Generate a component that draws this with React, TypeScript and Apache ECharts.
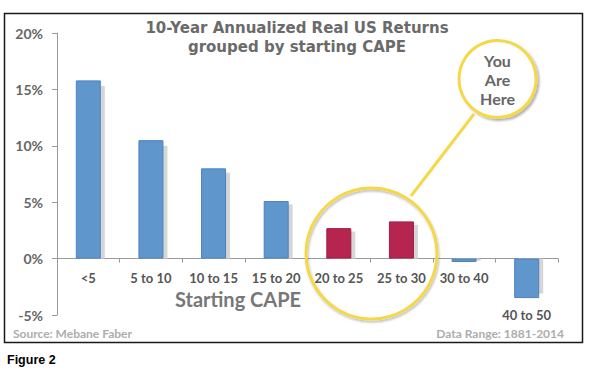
import React, { useEffect, useRef } from "react";
import * as echarts from "echarts";

const categories = ["<5", "5 to 10", "10 to 15", "15 to 20", "20 to 25", "25 to 30", "30 to 40", "40 to 50"];
const returns = [15.8, 10.5, 8.0, 5.1, 2.7, 3.3, -0.3, -3.5];
const shadowReturns = [15.3, 10.0, 7.6, 4.8, 2.4, 3.0, -0.2, -3.1];
const highlighted = ["20 to 25", "25 to 30"];
const loweredLabels = ["40 to 50"];
const yMin = -5;
const yMax = 20;
const yInterval = 5;
const titleLines = ["10-Year Annualized Real US Returns", "grouped by starting CAPE"];
const calloutLines = ["You", "Are", "Here"];

const FONT = "Lato, 'Open Sans', sans-serif";
const TITLE_FONT = "'DejaVu Sans', Lato, sans-serif";

export default function App() {
  const ref = useRef<HTMLDivElement>(null);
  useEffect(() => {
    if (!ref.current) return;
    const chart = echarts.init(ref.current, null, { renderer: "svg" });
    const blue = { color: "#5f96cc", borderColor: "#4a82c2", borderWidth: 1 };
    const red = { color: "#b5254f", borderColor: "#a01e44", borderWidth: 1 };
    const gridTop = 33, gridBottom = 58;
    const plotHeight = 373 - gridTop - gridBottom;
    // shift the category axis from the grid bottom up to the zero line
    const zeroOffset = -plotHeight * (0 - yMin) / (yMax - yMin);
    const labelStyle = {
      fontSize: 13,
      fontWeight: "bold",
      fontFamily: FONT,
      color: "#555",
    };
    chart.setOption({
      animation: false,
      backgroundColor: "#ffffff",
      grid: [
        { left: 57, right: 32, top: gridTop, bottom: gridBottom, outerBoundsMode: "none", containLabel: false },
        { left: 61, right: 28, top: gridTop, bottom: gridBottom, outerBoundsMode: "none", containLabel: false },
      ],
      xAxis: [
        {
          type: "category",
          gridIndex: 0,
          data: categories,
          position: "bottom",
          offset: zeroOffset,
          axisLine: { show: true, onZero: false, lineStyle: { color: "#9a9a9a", width: 1 } },
          axisTick: { show: true, length: 4, lineStyle: { color: "#9a9a9a" } },
          axisLabel: {
            interval: 0,
            hideOverlap: false,
            margin: 13,
            ...labelStyle,
            formatter: (v: string) =>
              loweredLabels.includes(v) ? `{low|${v}}` : `{n|${v}}`,
            rich: {
              n: { ...labelStyle },
              low: { ...labelStyle, padding: [37, 0, 0, 0] },
            },
          },
        },
        {
          type: "category",
          gridIndex: 1,
          data: categories,
          show: false,
        },
      ],
      yAxis: [
        {
          type: "value",
          gridIndex: 0,
          min: yMin,
          max: yMax,
          interval: yInterval,
          splitLine: { show: false },
          axisLine: { show: true, lineStyle: { color: "#9a9a9a", width: 1 } },
          axisTick: { show: true, length: 5, lineStyle: { color: "#9a9a9a" } },
          axisLabel: {
            margin: 14,
            fontSize: 14,
            fontWeight: "bold",
            fontFamily: FONT,
            color: "#666",
            formatter: "{value}%",
          },
        },
        {
          type: "value",
          gridIndex: 1,
          min: yMin,
          max: yMax,
          interval: yInterval,
          show: false,
          splitLine: { show: false },
        },
      ],
      series: [
        {
          type: "bar",
          xAxisIndex: 1,
          yAxisIndex: 1,
          barWidth: 25,
          z: 1,
          silent: true,
          itemStyle: { color: "#d6d6d6" },
          data: shadowReturns,
        },
        {
          type: "bar",
          xAxisIndex: 0,
          yAxisIndex: 0,
          barWidth: 25,
          z: 3,
          data: returns.map((v, i) => ({
            value: v,
            itemStyle: highlighted.includes(categories[i]) ? red : blue,
          })),
        },
      ],
      graphic: [
        {
          type: "rect",
          left: 2,
          top: 11,
          shape: { width: 578, height: 329 },
          style: { fill: "none", stroke: "#1a1a1a", lineWidth: 1.5 },
          z: 0,
        },
        ...titleLines.map((t, i) => ({
          type: "text",
          x: 297,
          y: 28 + i * 19,
          style: {
            text: t,
            fill: "#6a6a6a",
            font: `bold 15px ${TITLE_FONT}`,
            textAlign: "center",
            textVerticalAlign: "middle",
          },
          z: 10,
        })),
        {
          type: "text",
          x: 238,
          y: 299,
          style: {
            text: "Starting CAPE",
            fill: "#777",
            font: `bold 20px ${FONT}`,
            textAlign: "center",
            textVerticalAlign: "middle",
          },
          z: 10,
        },
        {
          type: "text",
          x: 13,
          y: 333,
          style: {
            text: "Source: Mebane Faber",
            fill: "#adadad",
            font: `bold 12px ${FONT}`,
            textAlign: "left",
            textVerticalAlign: "middle",
          },
          z: 10,
        },
        {
          type: "text",
          x: 564,
          y: 333,
          style: {
            text: "Data Range: 1881-2014",
            fill: "#adadad",
            font: `bold 12px ${FONT}`,
            textAlign: "right",
            textVerticalAlign: "middle",
          },
          z: 10,
        },
        {
          type: "text",
          x: 7,
          y: 360,
          style: {
            text: "Figure 2",
            fill: "#000",
            font: "bold 12.5px 'Liberation Sans Narrow', 'Liberation Sans', Arial, sans-serif",
            textAlign: "left",
            textVerticalAlign: "middle",
          },
          z: 10,
        },
        {
          type: "circle",
          shape: { cx: 371.5, cy: 253.5, r: 65.5 },
          style: {
            fill: "none",
            stroke: "#f5d84a",
            lineWidth: 3,
            shadowColor: "rgba(0,0,0,0.25)",
            shadowBlur: 2,
            shadowOffsetX: 1,
            shadowOffsetY: 2,
          },
          z: 20,
        },
        {
          type: "line",
          shape: { x1: 474, y1: 114, x2: 411, y2: 196 },
          style: { stroke: "#f5d84a", lineWidth: 3 },
          z: 20,
        },
        {
          type: "circle",
          shape: { cx: 497.5, cy: 79, r: 38.5 },
          style: {
            fill: "#ffffff",
            stroke: "#f5d84a",
            lineWidth: 3,
            shadowColor: "rgba(0,0,0,0.3)",
            shadowBlur: 2,
            shadowOffsetX: 2,
            shadowOffsetY: 2,
          },
          z: 21,
        },
        ...calloutLines.map((t, i) => ({
          type: "text",
          x: 497.5,
          y: 60 + i * 19,
          style: {
            text: t,
            fill: "#666",
            font: `bold 16px ${FONT}`,
            textAlign: "center",
            textVerticalAlign: "middle",
          },
          z: 22,
        })),
      ],
    });
    return () => chart.dispose();
  }, []);
  return (
    <div
      ref={ref}
      style={{ position: "absolute", left: 0, top: 0, width: 590, height: 373 }}
    />
  );
}
